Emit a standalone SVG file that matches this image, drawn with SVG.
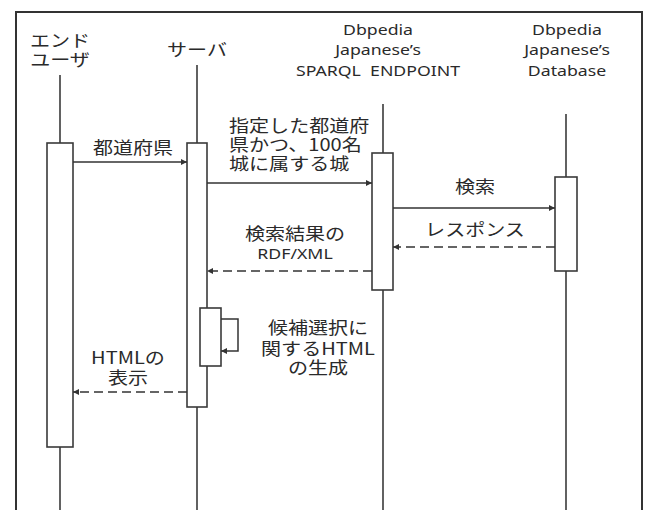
<svg xmlns="http://www.w3.org/2000/svg" width="645" height="510" viewBox="0 0 645 510">
<defs>
<style>
.frame{fill:none;stroke:#333;stroke-width:2}
.life{stroke:#3a3a3a;stroke-width:1.6;fill:none}
.act{fill:#fff;stroke:#3a3a3a;stroke-width:1.6}
.msg{stroke:#333;stroke-width:1.5;fill:none;marker-end:url(#ah)}
.ret{stroke:#333;stroke-width:1.5;fill:none;stroke-dasharray:9 5;marker-end:url(#ah)}
text{font-family:"Noto Sans CJK JP","Noto Sans",sans-serif;fill:#2a2a2a;font-size:17px;text-anchor:middle}
.lat{font-family:"Noto Sans","Noto Sans CJK JP",sans-serif;font-size:15px}
.st{text-anchor:start}
</style>
<marker id="ah" viewBox="0 0 10 10" refX="10" refY="5" markerWidth="7" markerHeight="6" markerUnits="userSpaceOnUse" orient="auto">
<path d="M0,0 L10,5 L0,10 z" fill="#333"/>
</marker>
</defs>
<rect width="645" height="510" fill="#fff"/>
<path class="frame" d="M16,510 V12 H642 V510"/>

<g id="enduser">
<text transform="translate(60,47) scale(1.18,1)"><tspan x="0">エンド</tspan><tspan x="0" dy="19">ユーザ</tspan></text>
<line class="life" x1="60" y1="75" x2="60" y2="510"/>
<rect class="act" x="47" y="143" width="26" height="304"/>
</g>

<g id="server">
<text transform="translate(197,56) scale(1.18,1)">サーバ</text>
<line class="life" x1="197" y1="65" x2="197" y2="510"/>
<rect class="act" x="187" y="143" width="20" height="264"/>
<rect class="act" x="200" y="308" width="21" height="58"/>
</g>

<g id="endpoint">
<text class="lat" transform="translate(378,35) scale(1.18,1)"><tspan x="0">Dbpedia</tspan><tspan x="0" dy="20.5">Japanese’s</tspan><tspan x="0" dy="20.5">SPARQL&#160; ENDPOINT</tspan></text>
<line class="life" x1="383" y1="104" x2="383" y2="510"/>
<rect class="act" x="372" y="153" width="21" height="137"/>
</g>

<g id="database">
<text class="lat" transform="translate(567,35) scale(1.18,1)"><tspan x="0">Dbpedia</tspan><tspan x="0" dy="20.5">Japanese’s</tspan><tspan x="0" dy="20.5">Database</tspan></text>
<line class="life" x1="566" y1="114" x2="566" y2="510"/>
<rect class="act" x="555" y="177" width="22" height="94"/>
</g>

<g id="connectors">
<line class="msg" x1="73" y1="162" x2="187" y2="162"/>
<line class="msg" x1="207" y1="183" x2="372" y2="183"/>
<line class="msg" x1="393" y1="208" x2="555" y2="208"/>
<line class="ret" x1="555" y1="247" x2="393" y2="247"/>
<line class="ret" x1="372" y1="271" x2="207" y2="271"/>
<path class="msg" d="M221,319 H238 V351 H221"/>
<line class="ret" x1="187" y1="392" x2="73" y2="392"/>
</g>

<g id="labels">
<text transform="translate(133,154) scale(1.18,1)">都道府県</text>
<text class="st" transform="translate(229,132) scale(1.18,1)"><tspan x="0">指定した都道府</tspan><tspan x="0" dy="19">県かつ、100名</tspan><tspan x="0" dy="19">城に属する城</tspan></text>
<text transform="translate(475,193) scale(1.18,1)">検索</text>
<text transform="translate(475,236) scale(1.18,1)">レスポンス</text>
<text transform="translate(295,240) scale(1.18,1)"><tspan x="0">検索結果の</tspan><tspan x="0" dy="19" class="lat">RDF/XML</tspan></text>
<text transform="translate(318,334) scale(1.18,1)"><tspan x="0">候補選択に</tspan><tspan x="0" dy="21">関するHTML</tspan><tspan x="0" dy="19">の生成</tspan></text>
<text transform="translate(128,364) scale(1.18,1)"><tspan x="0">HTMLの</tspan><tspan x="0" dy="20">表示</tspan></text>
</g>
</svg>
